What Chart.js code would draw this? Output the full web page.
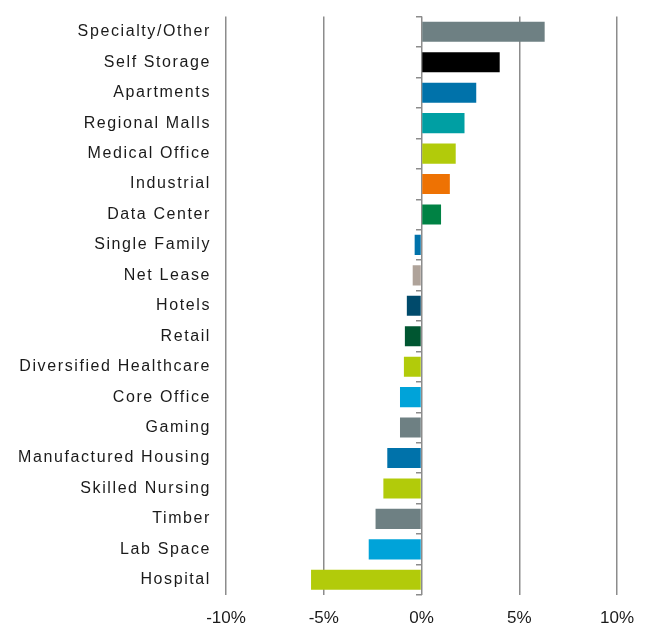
<!DOCTYPE html>
<html>
<head>
<meta charset="utf-8">
<script src="https://cdn.jsdelivr.net/npm/chart.js@4"></script>
<style>
  html, body { margin: 0; padding: 0; background: #fff; }
  #wrap { width: 649px; height: 628px; }
</style>
</head>
<body>
<div id="wrap"><canvas id="chart-1" width="649" height="628"></canvas></div>
<script>
const sectors = [
    'Specialty/Other', 'Self Storage', 'Apartments', 'Regional Malls', 'Medical Office',
    'Industrial', 'Data Center', 'Single Family', 'Net Lease', 'Hotels', 'Retail',
    'Diversified Healthcare', 'Core Office', 'Gaming', 'Manufactured Housing',
    'Skilled Nursing', 'Timber', 'Lab Space', 'Hospital'
];
const returns = [
    6.3, 4.0, 2.8, 2.2, 1.75, 1.45, 1.0, -0.35, -0.45, -0.75, -0.85,
    -0.9, -1.1, -1.1, -1.75, -1.95, -2.35, -2.7, -5.65
];
const barColors = [
    '#6e8083', '#000000', '#0072aa', '#009fa3', '#b2cb0a', '#ee7203', '#008244',
    '#0072aa', '#afa39a', '#004a6b', '#005631', '#b2cb0a', '#00a3d9', '#6e8083',
    '#0072aa', '#b2cb0a', '#6e8083', '#00a3d9', '#b2cb0a'
];
const xTicks = [-10, -5, 0, 5, 10];

const gridGray = '#8c8c8c';
const fontFamily = "'Liberation Sans', Arial, sans-serif";

// spaced-out category labels, drawn after the bars
const labelSpacing = {
    id: 'labelSpacing',
    afterDatasetsDraw(chart) { chart.ctx.letterSpacing = '1.6px'; },
    afterDraw(chart) { chart.ctx.letterSpacing = '0px'; }
};

const ctx1 = document.getElementById('chart-1').getContext('2d');

new Chart(ctx1, {
    type: 'bar',
    data: {
        labels: sectors,
        datasets: [{
            data: returns,
            backgroundColor: barColors,
            barPercentage: 0.66,
            categoryPercentage: 1
        }]
    },
    options: {
        indexAxis: 'y',
        responsive: false,
        animation: false,
        layout: { padding: { top: 8, right: 32, left: 0, bottom: 0 } },
        plugins: {
            legend: { display: false },
            tooltip: { enabled: false }
        },
        scales: {
            x: {
                min: -10,
                max: 10,
                afterBuildTicks: s => { s.ticks = xTicks.map(v => ({ value: v })); },
                afterFit: s => { s.height = 33; },
                grid: { color: gridGray, lineWidth: 1.5, drawTicks: false },
                border: { display: false },
                ticks: {
                    padding: 13,
                    color: '#1a1a1a',
                    font: { family: fontFamily, size: 17 },
                    callback: v => v + '%'
                }
            },
            y: {
                afterFit: s => { s.width = 226; },
                grid: { display: false },
                border: { display: false },
                ticks: { padding: 7, color: '#1a1a1a', font: { family: fontFamily, size: 16 }, z: 1 }
            },
            y2: {
                type: 'category',
                axis: 'y',
                position: { x: 0 },
                offset: true,
                grid: {
                    offset: true,
                    drawOnChartArea: false,
                    tickLength: 6,
                    color: gridGray,
                    lineWidth: 1.5
                },
                border: { display: false },
                ticks: { display: false }
            }
        }
    },
    plugins: [labelSpacing]
});
</script>
</body>
</html>
